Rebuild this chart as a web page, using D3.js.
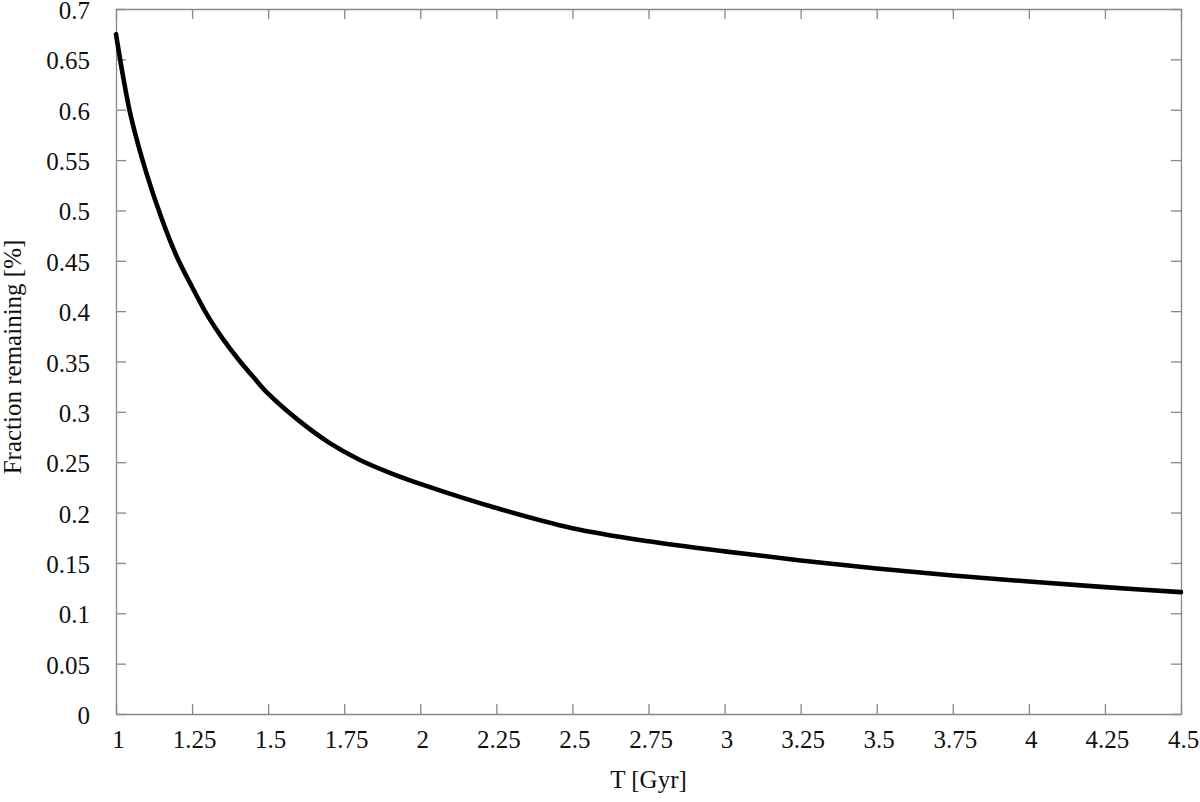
<!DOCTYPE html>
<html>
<head>
<meta charset="utf-8">
<script src="https://cdn.jsdelivr.net/npm/d3@7"></script>
<style>
  html, body { margin: 0; padding: 0; background: #fff; }
  svg { display: block; }
  text { font-family: "Liberation Serif", "Times New Roman", serif; fill: #111; }
</style>
</head>
<body>
<svg id="chart" width="1200" height="802"></svg>
<script>
// Data
const timeGyr = [1.00, 1.025, 1.05, 1.10, 1.15, 1.20, 1.25, 1.30, 1.35, 1.40, 1.45, 1.50, 1.60, 1.70, 1.80, 1.90, 2.00, 2.25, 2.50, 2.75, 3.00, 3.25, 3.50, 3.75, 4.00, 4.25, 4.50];
const fractionRemaining = [0.675, 0.630, 0.592, 0.537, 0.492, 0.454, 0.424, 0.396, 0.373, 0.353, 0.335, 0.318, 0.2915, 0.2695, 0.2525, 0.2395, 0.2285, 0.2045, 0.1845, 0.1715, 0.1615, 0.1525, 0.1445, 0.1375, 0.1315, 0.126, 0.121];
const xTicks = [1, 1.25, 1.5, 1.75, 2, 2.25, 2.5, 2.75, 3, 3.25, 3.5, 3.75, 4, 4.25, 4.5];
const yTicks = [0, 0.05, 0.1, 0.15, 0.2, 0.25, 0.3, 0.35, 0.4, 0.45, 0.5, 0.55, 0.6, 0.65, 0.7];
const xTitle = "T [Gyr]";
const yTitle = "Fraction remaining [%]";

(function () {
const svg = d3.select("#chart");
const plotL = 116, plotR = 1181, plotT = 9, plotB = 714;
const x = d3.scaleLinear().domain([1, 4.5]).range([plotL, plotR]);
const y = d3.scaleLinear().domain([0, 0.7]).range([plotB, plotT]);
const tickLen = 10;
const axisColor = "#888";

const fmt = d => String(+d.toFixed(2));

const gx = svg.append("g").attr("transform", `translate(0,${plotB})`)
  .call(d3.axisBottom(x).tickValues(xTicks).tickSizeInner(-tickLen).tickSizeOuter(0).tickPadding(26).tickFormat(fmt));
const gxt = svg.append("g").attr("transform", `translate(0,${plotT})`)
  .call(d3.axisTop(x).tickValues(xTicks).tickSizeInner(-tickLen).tickSizeOuter(0).tickFormat(""));
const gy = svg.append("g").attr("transform", `translate(${plotL},0)`)
  .call(d3.axisLeft(y).tickValues(yTicks).tickSizeInner(-tickLen).tickSizeOuter(0).tickPadding(16 + tickLen).tickFormat(fmt));
const gyr = svg.append("g").attr("transform", `translate(${plotR},0)`)
  .call(d3.axisRight(y).tickValues(yTicks).tickSizeInner(-tickLen).tickSizeOuter(0).tickFormat(""));

[gx, gxt, gy, gyr].forEach(g => {
  g.select(".domain").attr("stroke", axisColor).attr("stroke-width", 1.3);
  g.selectAll(".tick line").attr("stroke", axisColor).attr("stroke-width", 1.3);
  g.selectAll(".tick text")
    .attr("font-family", "Liberation Serif, serif")
    .attr("font-size", 25)
    .attr("fill", "#111");
});
gx.selectAll(".tick text").attr("dy", "0.3em").attr("dx", 2);
gy.selectAll(".tick text").attr("dy", "0.38em");

const line = d3.line()
  .x((d, i) => x(timeGyr[i]))
  .y(d => y(d))
  .curve(d3.curveCatmullRom.alpha(0.5));
svg.append("path")
  .datum(fractionRemaining)
  .attr("d", line)
  .attr("fill", "none")
  .attr("stroke", "#000")
  .attr("stroke-width", 4.6)
  .attr("stroke-linecap", "round")
  .attr("stroke-linejoin", "round");

svg.append("text")
  .attr("x", (plotL + plotR) / 2)
  .attr("y", 788)
  .attr("text-anchor", "middle")
  .attr("font-size", 25)
  .text(xTitle);

svg.append("text")
  .attr("transform", `translate(21,357) rotate(-90)`)
  .attr("text-anchor", "middle")
  .attr("font-size", 25)
  .text(yTitle);
})();
</script>
</body>
</html>
